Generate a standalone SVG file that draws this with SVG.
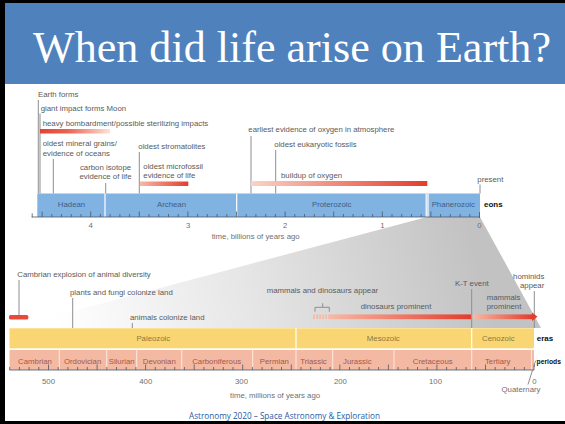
<svg xmlns="http://www.w3.org/2000/svg" width="565" height="424" viewBox="0 0 565 424">
<defs>
<style>
.t{font-family:"Liberation Sans",Arial,sans-serif;font-size:7.8px;fill:#5a5a5a}
.m{text-anchor:middle}
.eon{fill:#3f5f86}
.era{fill:#8e7740}
.per{fill:#9f5a4c}
.ax{fill:#707070}
.b{font-family:"Liberation Sans",Arial,sans-serif;font-size:8px;font-weight:bold;fill:#111}
.ln{stroke:#8e8e8e;stroke-width:1;fill:none}
.tk{stroke:#4a5868;stroke-width:0.8;fill:none}
.dv{stroke:#ffffff;stroke-width:1.2}
</style>
<linearGradient id="wedge" gradientUnits="userSpaceOnUse" x1="60" y1="335" x2="470" y2="225">
<stop offset="0" stop-color="#ffffff"/>
<stop offset="0.45" stop-color="#e6e6e6"/>
<stop offset="1" stop-color="#c2c2c2"/>
</linearGradient>
<linearGradient id="redL" x1="0" y1="0" x2="1" y2="0">
<stop offset="0" stop-color="#e5412f"/>
<stop offset="0.4" stop-color="#ec6450"/>
<stop offset="1" stop-color="#fde2d9"/>
</linearGradient>
<linearGradient id="redR" x1="0" y1="0" x2="1" y2="0">
<stop offset="0" stop-color="#fbd3c6"/>
<stop offset="1" stop-color="#e33d2b"/>
</linearGradient>
<linearGradient id="redR2" x1="0" y1="0" x2="1" y2="0">
<stop offset="0" stop-color="#f7b9a6"/>
<stop offset="1" stop-color="#e33d2b"/>
</linearGradient>
</defs>

<rect width="565" height="424" fill="#ffffff"/>

<g id="title">
<rect x="5" y="3" width="560" height="81" fill="#4f81bd"/>
<text x="33" y="61.5" font-family="'Liberation Serif','Times New Roman',serif" font-size="44" fill="#ffffff" textLength="518" lengthAdjust="spacingAndGlyphs">When did life arise on Earth?</text>
</g>

<g id="wedge-zoom">
<polygon points="427,217 480,217 541,328 9.5,328" fill="url(#wedge)"/>
</g>

<g id="connectors">
<path class="ln" d="M38.3 100V193.5M40 113.5V193.5M53.3 159V193.5M105.7 183V193.5M139.3 152V193.5M251 136V193.5M275.7 150V193.5M480 184.5V193.5"/>
<path class="ln" d="M19 280V315M72.7 298V328M132.3 323V328M471.7 289V328M534.3 291V328"/>
<path class="ln" d="M322.7 303.3V307.3M315 311.7V307.3H329.3V311.7"/>
<path class="ln" d="M536 360.5Q534.5 362 534 367"/>
<path class="ln" d="M533 368.5L528 384.5"/>
</g>

<g id="bars-upper">
<rect x="40" y="129" width="70" height="4.5" fill="url(#redL)"/>
<rect x="140" y="181.5" width="48.3" height="4.5" fill="url(#redR2)"/>
<rect x="251" y="181" width="176.3" height="5" fill="url(#redR)"/>
</g>

<g id="eons">
<rect x="37.3" y="193.5" width="442.7" height="23.5" fill="#80b2e2"/>
<path class="dv" d="M105 193.5V217M236.7 193.5V217M426.2 193.5V217M428 193.5V217"/>
<path class="tk" d="M31.7 217H480"/>
<path class="tk" d="M469.8 217v-3M460.1 217v-3M450.3 217v-3M440.6 217v-3M421.2 217v-3M411.5 217v-3M401.7 217v-3M392 217v-3M372.6 217v-3M362.9 217v-3M353.1 217v-3M343.4 217v-3M324 217v-3M314.3 217v-3M304.5 217v-3M294.8 217v-3M275.4 217v-3M265.7 217v-3M255.9 217v-3M246.2 217v-3M226.8 217v-3M217.1 217v-3M207.3 217v-3M197.6 217v-3M178.2 217v-3M168.5 217v-3M158.7 217v-3M149 217v-3M129.6 217v-3M119.9 217v-3M110.1 217v-3M100.4 217v-3M81 217v-3M71.3 217v-3M61.5 217v-3M51.8 217v-3M32.2 217.3v-4"/>
<path class="tk" d="M479.5 218v-6M430.9 217v-5.5M382.3 217v-5.5M333.7 217v-5.5M285.1 217v-5.5M236.5 217v-5.5M187.9 217v-5.5M139.3 217v-5.5M90.7 217v-5.5M42.1 217v-5.5"/>
<text class="t m eon" x="71.5" y="207">Hadean</text>
<text class="t m eon" x="171.5" y="207">Archean</text>
<text class="t m eon" x="331.7" y="207">Proterozoic</text>
<text class="t m eon" x="453.3" y="207">Phanerozoic</text>
<text class="b" x="484" y="207">eons</text>
</g>

<g id="axis-upper">
<text class="t m ax" x="90.7" y="227.8">4</text>
<text class="t m ax" x="188.2" y="227.8">3</text>
<text class="t m ax" x="285.1" y="227.8">2</text>
<text class="t m ax" x="382.3" y="227.8">1</text>
<text class="t m ax" x="479.5" y="227.8">0</text>
<text class="t ax" x="211.7" y="239.3">time, billions of years ago</text>
</g>

<g id="notes-upper">
<text class="t" x="38" y="97.3">Earth forms</text>
<text class="t" x="40.7" y="111.4">giant impact forms Moon</text>
<text class="t" x="42.7" y="126.3">heavy bombardment/possible sterilizing impacts</text>
<text class="t" x="42.7" y="146.3">oldest mineral grains/</text>
<text class="t" x="42.7" y="155.5">evidence of oceans</text>
<text class="t m" x="105.5" y="169.6">carbon isotope</text>
<text class="t m" x="105.5" y="178.6">evidence of life</text>
<text class="t" x="138.3" y="149">oldest stromatolites</text>
<text class="t" x="143.3" y="169">oldest microfossil</text>
<text class="t" x="143.3" y="178">evidence of life</text>
<text class="t" x="248.3" y="132.2">earliest evidence of oxygen in atmosphere</text>
<text class="t" x="274.3" y="147.4">oldest eukaryotic fossils</text>
<text class="t" x="281" y="177.6">buildup of oxygen</text>
<text class="t" x="477.3" y="182">present</text>
</g>

<g id="bars-lower">
<rect x="9" y="315" width="19.3" height="4.5" rx="1.5" fill="#e84a3a"/>
<line x1="313.3" y1="316.8" x2="329" y2="316.8" stroke="#f6b6a4" stroke-width="4.5" stroke-dasharray="1.6 1.4"/>
<rect x="329" y="314.4" width="142" height="4.8" fill="url(#redR2)"/>
<rect x="473" y="314.4" width="59.5" height="4.8" fill="url(#redR2)"/>
<polygon points="532,312.6 537.5,316.8 532,321" fill="#e33d2b"/>
</g>

<g id="eras">
<rect x="9.5" y="328.3" width="524.5" height="20" fill="#f9d673"/>
<path class="dv" d="M296 328.3V348.3M471.7 328.3V348.3"/>
<text class="t m era" x="153.3" y="340.6">Paleozoic</text>
<text class="t m era" x="383.3" y="340.6">Mesozoic</text>
<text class="t m era" x="498.3" y="340.6">Cenozoic</text>
<text class="b" x="536.7" y="340.6">eras</text>
</g>

<g id="periods">
<rect x="9.5" y="350" width="524.5" height="20" fill="#f4b9a3"/>
<path stroke="#fde4da" stroke-width="1.1" d="M59.3 350V370M106.7 350V370M136.7 350V370M181.7 350V370M252.7 350V370M296 350V370M332.7 350V370M394 350V370M471.7 350V370M531.5 350V370"/>
<text class="t m per" x="35" y="363.5">Cambrian</text>
<text class="t m per" x="82.6" y="363.5">Ordovician</text>
<text class="t m per" x="121.7" y="363.5">Silurian</text>
<text class="t m per" x="159.3" y="363.5">Devonian</text>
<text class="t m per" x="216.7" y="363.5">Carboniferous</text>
<text class="t m per" x="274.3" y="363.5">Permian</text>
<text class="t m per" x="313.5" y="363.5">Triassic</text>
<text class="t m per" x="357.3" y="363.5">Jurassic</text>
<text class="t m per" x="432.7" y="363.5">Cretaceous</text>
<text class="t m per" x="497.7" y="363.5">Tertiary</text>
<text class="b" x="536.5" y="363.5" font-size="7.4" textLength="24.5" lengthAdjust="spacingAndGlyphs">periods</text>
</g>

<g id="axis-lower">
<path class="tk" d="M9.5 370H534"/>
<path class="tk" d="M524.3 370v-3M514.6 370v-3M504.9 370v-3M495.2 370v-3M475.7 370v-3M466 370v-3M456.3 370v-3M446.6 370v-3M427.2 370v-3M417.5 370v-3M407.8 370v-3M398.1 370v-3M378.6 370v-3M368.9 370v-3M359.2 370v-3M349.5 370v-3M330.1 370v-3M320.4 370v-3M310.7 370v-3M301 370v-3M281.5 370v-3M271.8 370v-3M262.1 370v-3M252.4 370v-3M233 370v-3M223.3 370v-3M213.6 370v-3M203.9 370v-3M184.4 370v-3M174.7 370v-3M165 370v-3M155.3 370v-3M135.9 370v-3M126.2 370v-3M116.5 370v-3M106.8 370v-3M87.3 370v-3M77.6 370v-3M67.9 370v-3M58.2 370v-3M38.8 370v-3M29.1 370v-3M19.4 370v-3M9.7 370v-3"/>
<path class="tk" d="M534 370v-5.5M485.5 370v-5.5M436.9 370v-5.5M388.4 370v-5.5M339.8 370v-5.5M291.3 370v-5.5M242.7 370v-5.5M194.2 370v-5.5M145.6 370v-5.5M97.1 370v-5.5M48.5 370v-5.5"/>
<text class="t m ax" x="48.5" y="383.8">500</text>
<text class="t m ax" x="145.8" y="383.8">400</text>
<text class="t m ax" x="241.5" y="383.8">300</text>
<text class="t m ax" x="340.4" y="383.8">200</text>
<text class="t m ax" x="435.5" y="383.8">100</text>
<text class="t m ax" x="534.5" y="383.8">0</text>
<text class="t ax" x="230" y="397.5">time, millions of years ago</text>
<text class="t m ax" x="521" y="391.5">Quaternary</text>
</g>

<g id="notes-lower">
<text class="t" x="17.3" y="277.3">Cambrian explosion of animal diversity</text>
<text class="t" x="70" y="295.4">plants and fungi colonize land</text>
<text class="t" x="130" y="320">animals colonize land</text>
<text class="t" x="266.7" y="293.3">mammals and dinosaurs appear</text>
<text class="t" x="360.7" y="309">dinosaurs prominent</text>
<text class="t" x="455" y="286.4">K-T event</text>
<text class="t" x="486.7" y="300.3">mammals</text>
<text class="t" x="486.7" y="309">prominent</text>
<text class="t" x="544.3" y="279" text-anchor="end">hominids</text>
<text class="t" x="544.3" y="288" text-anchor="end">appear</text>
</g>

<g id="footer">
<text x="284.5" y="418.8" text-anchor="middle" font-family="'Open Sans','Liberation Sans',sans-serif" font-size="8.6" fill="#1f5aa6" textLength="191" lengthAdjust="spacingAndGlyphs">Astronomy 2020 – Space Astronomy &amp; Exploration</text>
</g>

<g id="frame">
<rect x="0" y="0" width="565" height="3" fill="#000"/>
<rect x="0" y="0" width="5" height="424" fill="#000"/>
<rect x="0" y="421" width="565" height="3" fill="#000"/>
</g>
</svg>
